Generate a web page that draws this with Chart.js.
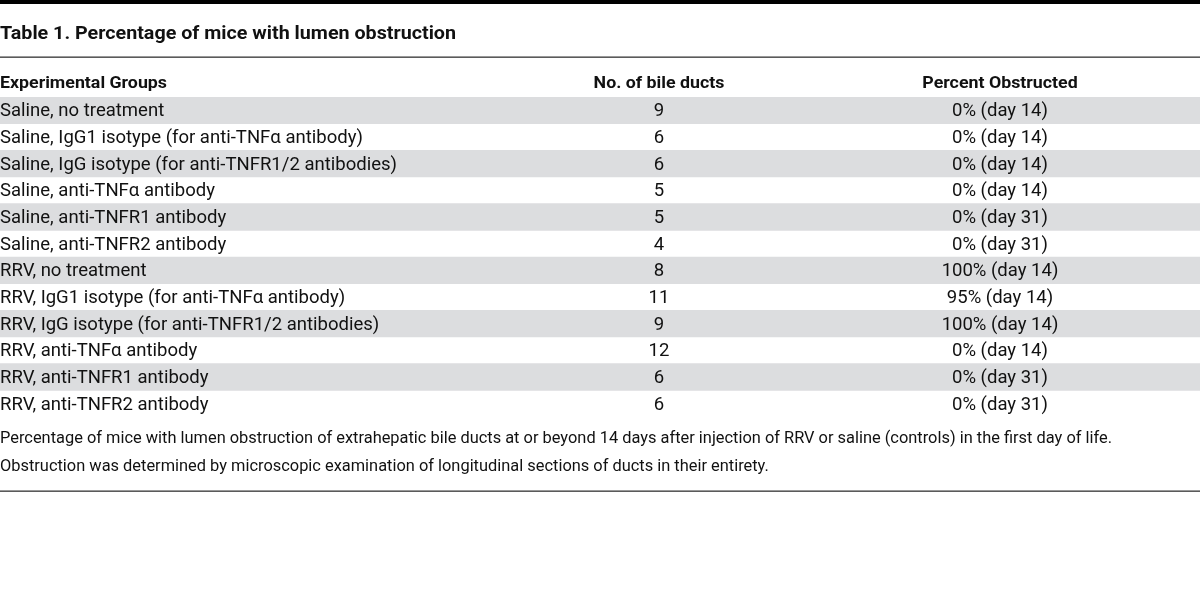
<!DOCTYPE html>
<html><head><meta charset="utf-8">
<script src="https://cdn.jsdelivr.net/npm/chart.js@4.4.0/dist/chart.umd.min.js"></script>
<style>html,body{margin:0;padding:0;background:#fff}#wrap{width:1200px;height:596px}canvas{display:block}</style>
</head><body><div id="wrap"><canvas id="c" width="1200" height="596"></canvas></div>
<script>
const tableTitle = "Table 1. Percentage of mice with lumen obstruction";
const columnHeaders = ["Experimental Groups", "No. of bile ducts", "Percent Obstructed"];
const groups = [
  "Saline, no treatment",
  "Saline, IgG1 isotype (for anti-TNF\u03b1 antibody)",
  "Saline, IgG isotype (for anti-TNFR1/2 antibodies)",
  "Saline, anti-TNF\u03b1 antibody",
  "Saline, anti-TNFR1 antibody",
  "Saline, anti-TNFR2 antibody",
  "RRV, no treatment",
  "RRV, IgG1 isotype (for anti-TNF\u03b1 antibody)",
  "RRV, IgG isotype (for anti-TNFR1/2 antibodies)",
  "RRV, anti-TNF\u03b1 antibody",
  "RRV, anti-TNFR1 antibody",
  "RRV, anti-TNFR2 antibody"
];
const bileDucts = [9, 6, 6, 5, 5, 4, 8, 11, 9, 12, 6, 6];
const percentObstructed = [0, 0, 0, 0, 0, 0, 100, 95, 100, 0, 0, 0];
const dayExamined = [14, 14, 14, 14, 31, 31, 14, 14, 14, 14, 31, 31];
const footnote = [
  "Percentage of mice with lumen obstruction of extrahepatic bile ducts at or beyond 14 days after injection of RRV or saline (controls) in the first day of life.",
  "Obstruction was determined by microscopic examination of longitudinal sections of ducts in their entirety."
];

const FONT = "Roboto, 'Noto Sans', 'Liberation Sans', sans-serif";
const TEXT = '#111';
const colX = [0, 659, 1000];
const YOFF = 1.5;

function fitScale(ctx, font, str, target) {
  ctx.save(); ctx.font = font; const w = ctx.measureText(str).width; ctx.restore();
  return target / w;
}
function drawText(ctx, str, x, y, align, font, sx) {
  ctx.save();
  ctx.font = font; ctx.fillStyle = TEXT; ctx.textAlign = align; ctx.textBaseline = 'middle';
  ctx.translate(x, y + YOFF); ctx.scale(sx, 1);
  ctx.fillText(str, 0, 0);
  ctx.restore();
}
function hline(ctx, y, w, color) {
  ctx.save(); ctx.fillStyle = color; ctx.fillRect(0, y, 1200, w); ctx.restore();
}

const tablePlugin = {
  id: 'tableText',
  afterDatasetsDraw(chart) {
    const ctx = chart.ctx;
    const xs = chart.scales.x, ys = chart.scales.y;
    const titleFont = "bold 19px " + FONT;
    const headFont = "bold 17px " + FONT;
    const bodyFont = "18px " + FONT;
    const noteFont = "17px " + FONT;
    const sTitle = fitScale(ctx, titleFont, tableTitle, 456);
    const sHead = fitScale(ctx, headFont, columnHeaders[0], 167);
    const sBody = fitScale(ctx, bodyFont, groups[2], 397);
    const sNote = fitScale(ctx, noteFont, footnote[0], 1112);

    hline(ctx, 0, 4, '#000');
    drawText(ctx, tableTitle, 0, 33, 'left', titleFont, sTitle);
    hline(ctx, 56.5, 1.3, '#333');

    const headY = ys.top - 15;
    drawText(ctx, columnHeaders[0], xs.getPixelForValue(colX[0]), headY, 'left', headFont, sHead);
    drawText(ctx, columnHeaders[1], xs.getPixelForValue(colX[1]), headY, 'center', headFont, sHead);
    drawText(ctx, columnHeaders[2], xs.getPixelForValue(colX[2]), headY, 'center', headFont, sHead);

    groups.forEach((g, i) => {
      const y = ys.getPixelForValue(i);
      drawText(ctx, g, xs.getPixelForValue(colX[0]), y, 'left', bodyFont, sBody);
      drawText(ctx, String(bileDucts[i]), xs.getPixelForValue(colX[1]), y, 'center', bodyFont, sBody);
      drawText(ctx, percentObstructed[i] + '% (day ' + dayExamined[i] + ')', xs.getPixelForValue(colX[2]), y, 'center', bodyFont, sBody);
    });

    drawText(ctx, footnote[0], 0, ys.bottom + 20, 'left', noteFont, sNote);
    drawText(ctx, footnote[1], 0, ys.bottom + 48, 'left', noteFont, sNote);
    hline(ctx, ys.bottom + 73.5, 1.3, '#333');
  }
};

new Chart(document.getElementById('c'), {
  type: 'bar',
  data: {
    labels: groups,
    datasets: [{
      label: 'stripes',
      data: groups.map((g, i) => (i % 2 === 0 ? [0, 1200] : null)),
      backgroundColor: '#dcdddf',
      borderWidth: 0,
      barPercentage: 1,
      categoryPercentage: 1
    }]
  },
  options: {
    indexAxis: 'y',
    responsive: false,
    animation: false,
    devicePixelRatio: 1,
    layout: { padding: { top: 97, bottom: 179, left: 0, right: 0 } },
    scales: {
      x: { type: 'linear', min: 0, max: 1200, display: false },
      y: { type: 'category', display: false }
    },
    plugins: { legend: { display: false }, tooltip: { enabled: false }, title: { display: false } }
  },
  plugins: [tablePlugin]
});
</script>
</body></html>
